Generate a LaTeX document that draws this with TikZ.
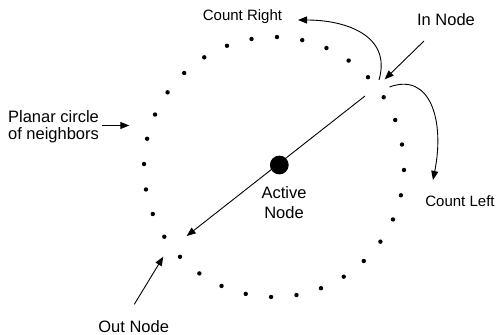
\documentclass[tikz,border=0pt]{standalone}
\usepackage{fontspec}
\setmainfont{Liberation Sans}
\usetikzlibrary{arrows.meta,calc}
\begin{document}
\begin{tikzpicture}[x=1pt,y=-1pt,
  conn/.style={line width=0.9pt,-{Triangle[length=9pt,width=7pt]}},
  curv/.style={line width=0.9pt,-{Triangle[length=9pt,width=7pt]}},
  lbl/.style={inner sep=0pt, font=\fontsize{16.5}{20}\selectfont, align=center},
  slbl/.style={inner sep=0pt, font=\fontsize{15}{18}\selectfont},
  nbr/.style={circle, fill, inner sep=0pt, minimum size=4.4pt},
  active/.style={circle, fill, inner sep=0pt, minimum size=18.8pt}]
\useasboundingbox (0,0) rectangle (496,335);
\coordinate (c) at (274,167);
\foreach \k in {0,...,31}
  \node[nbr] (n\k) at ($(c)+({1.3+11.25*\k}:130)$) {};
% main line from near In Node through Active Node to Out Node
\coordinate (mstart) at (365,96);
\coordinate (mend) at (186.7,236);
\draw[conn] (mstart) -- (mend);
\node[active] (act) at (279.3,165) {};
% labels
\node[slbl, anchor=base] (cr) at (242.5,20) {Count Right};
\node[lbl, anchor=base] (inl) at (446,25) {In Node};
\node[slbl, anchor=base] (cl) at (460,206.7) {Count Left};
\node[lbl, anchor=base] (outl) at (133.7,332.7) {Out Node};
\node[lbl, anchor=base, font=\fontsize{16.5}{16.7}\selectfont] (pl) at (53.5,139.3) {Planar circle\\of neighbors};
\node[lbl, anchor=base] (al) at (284,218.3) {Active\\Node};
% In Node arrow
\coordinate (intail) at (424,41);
\coordinate (intip) at (384.7,79.3);
\draw[conn] (intail) -- (intip);
% Out Node arrow
\coordinate (outtail) at (134.3,304.3);
\coordinate (outtip) at (163.3,256.7);
\draw[conn] (outtail) -- (outtip);
% Planar arrow
\coordinate (pltail) at (101.7,125.5);
\coordinate (pltip) at (129.3,125.5);
\draw[conn] (pltail) -- (pltip);
% Count Right curve
\coordinate (crs) at (379,80);
\coordinate (cre) at (298,20);
\draw[curv] (crs) .. controls (392,35) and (345,20) .. (cre);
% Count Left curve
\coordinate (cls) at (389.5,87);
\coordinate (cle) at (433,180);
\draw[curv] (cls) .. controls (430,72) and (445,120) .. (cle);
\end{tikzpicture}
\end{document}
